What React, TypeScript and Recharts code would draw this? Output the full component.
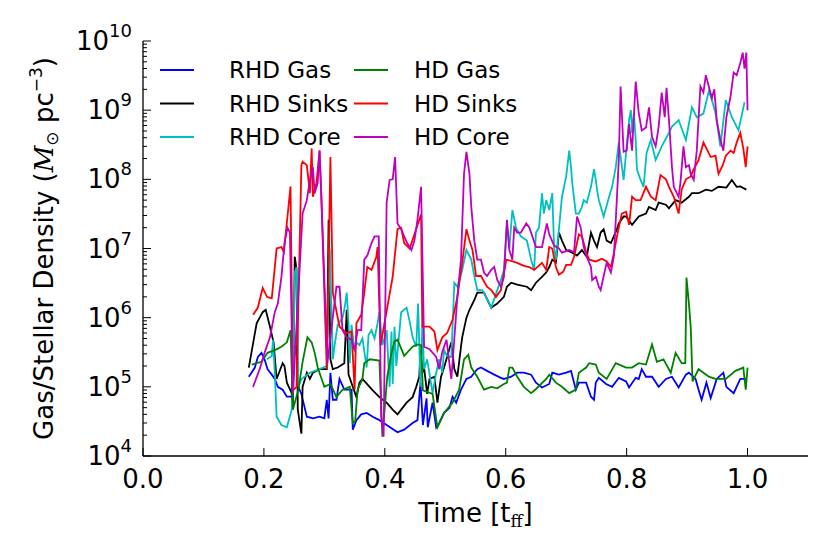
import { LineChart, Line, XAxis, YAxis, Legend } from "recharts";

// time [t_ff], density [Msun pc^-3]
const rhdGas: [number, number][] = [
  [0.175, 1.4e5], [0.185, 1.9e5], [0.19, 2.7e5], [0.196, 3.1e5], [0.201, 2.5e5], [0.206, 1.8e5],
  [0.213, 1.5e5], [0.218, 1.3e5], [0.223, 1.0e5], [0.231, 9.1e4], [0.238, 7.2e4], [0.246, 7.2e4],
  [0.249, 3.8e5], [0.254, 3.8e5], [0.257, 1.0e5], [0.262, 7.9e4], [0.271, 3.7e4], [0.281, 3.5e4],
  [0.292, 3.7e4], [0.3, 3.5e4], [0.304, 6.5e4], [0.307, 3.5e4], [0.31, 1.6e5], [0.314, 6.5e4],
  [0.32, 6.5e4], [0.325, 1.3e5], [0.333, 9.1e4], [0.345, 9.1e4], [0.347, 2.4e4], [0.353, 3.3e4],
  [0.361, 4.0e4], [0.37, 4.2e4], [0.38, 3.7e4], [0.391, 3.3e4], [0.403, 2.8e4], [0.421, 2.2e4],
  [0.432, 2.4e4], [0.446, 3.0e4], [0.454, 3.3e4], [0.459, 1.15e5], [0.463, 2.8e4], [0.469, 6.8e4],
  [0.471, 2.6e4], [0.479, 5.9e4], [0.485, 2.6e4], [0.49, 3.0e4], [0.498, 4.2e4], [0.507, 5.0e4],
  [0.512, 7.2e4], [0.518, 5.9e4], [0.526, 9.1e4], [0.535, 1.3e5], [0.543, 1.4e5], [0.548, 1.6e5],
  [0.553, 1.8e5], [0.559, 1.9e5], [0.569, 1.7e5], [0.581, 1.5e5], [0.592, 1.35e5], [0.597, 1.3e5],
  [0.609, 1.4e5], [0.619, 1.6e5], [0.63, 1.6e5], [0.642, 1.5e5], [0.65, 1.15e5], [0.66, 9.8e4],
  [0.672, 1.1e5], [0.677, 1.6e5], [0.688, 1.5e5], [0.7, 1.6e5], [0.708, 1.7e5], [0.716, 9.1e4],
  [0.721, 1.15e5], [0.733, 1.15e5], [0.741, 7.2e4], [0.746, 6.5e4], [0.749, 1.15e5], [0.754, 1.35e5],
  [0.766, 1.1e5], [0.776, 1.0e5], [0.787, 1.35e5], [0.799, 1.2e5], [0.804, 9.8e4], [0.815, 1.35e5],
  [0.82, 1.3e5], [0.825, 1.8e5], [0.832, 1.4e5], [0.842, 1.4e5], [0.853, 1.0e5], [0.865, 1.3e5],
  [0.875, 1.4e5], [0.886, 9.8e4], [0.898, 1.5e5], [0.903, 1.6e5], [0.914, 1.3e5], [0.919, 9.1e4],
  [0.924, 6.5e4], [0.932, 1.15e5], [0.939, 6.9e4], [0.949, 1.3e5], [0.96, 1.6e5], [0.965, 1.0e5],
  [0.977, 8.1e4], [0.988, 1.3e5], [0.998, 1.3e5],
];

const rhdSinks: [number, number][] = [
  [0.175, 1.9e5], [0.188, 8.3e5], [0.193, 1.0e6], [0.198, 1.2e6], [0.203, 1.3e6], [0.21, 7.4e5],
  [0.216, 4.4e5], [0.221, 1.3e5], [0.231, 2.2e5], [0.234, 2.0e5], [0.238, 1.15e5], [0.246, 8.1e4],
  [0.248, 4.7e4], [0.251, 7.6e6], [0.254, 5.0e6], [0.256, 4.7e4], [0.262, 2.1e4], [0.264, 1.0e5],
  [0.271, 1.6e5], [0.276, 1.3e5], [0.281, 1.6e5], [0.292, 1.8e5], [0.304, 1.8e5], [0.307, 2.6e7],
  [0.31, 2.5e5], [0.314, 1.8e5], [0.322, 1.9e5], [0.333, 2.2e5], [0.337, 1.3e6], [0.34, 1.5e5],
  [0.353, 7.1e4], [0.358, 1.15e5], [0.363, 1.3e5], [0.38, 8.9e4], [0.391, 7.1e4], [0.403, 5.9e4],
  [0.413, 4.7e4], [0.421, 4.0e4], [0.436, 5.9e4], [0.446, 7.1e4], [0.452, 1.0e5], [0.457, 1.4e5],
  [0.459, 3.4e5], [0.462, 1.6e5], [0.465, 1.9e5], [0.47, 7.9e4], [0.474, 1.3e5], [0.482, 1.4e5],
  [0.487, 5.9e4], [0.493, 1.4e5], [0.498, 1.9e5], [0.503, 2.7e5], [0.51, 4.4e5], [0.515, 1.8e5],
  [0.52, 1.4e5], [0.526, 3.8e5], [0.528, 5.2e5], [0.535, 1.0e6], [0.54, 1.3e6], [0.548, 1.8e6],
  [0.553, 2.3e6], [0.564, 2.3e6], [0.576, 1.4e6], [0.586, 1.6e6], [0.597, 2.0e6], [0.602, 2.8e6],
  [0.609, 3.2e6], [0.619, 3.0e6], [0.635, 2.8e6], [0.642, 2.5e6], [0.65, 3.2e6], [0.66, 3.9e6],
  [0.667, 4.5e6], [0.672, 5.4e6], [0.677, 6.9e6], [0.683, 6.3e6], [0.688, 1.7e7], [0.693, 1.3e7],
  [0.7, 9.5e6], [0.71, 8.7e6], [0.718, 7.9e6], [0.726, 9.5e6], [0.734, 7.6e6], [0.741, 1.7e7],
  [0.746, 1.3e7], [0.751, 1.05e7], [0.757, 1.7e7], [0.762, 1.9e7], [0.767, 1.3e7], [0.774, 1.2e7],
  [0.784, 1.9e7], [0.787, 2.3e7], [0.795, 2.9e7], [0.799, 2.9e7], [0.809, 2.2e7], [0.82, 2.9e7],
  [0.832, 3.2e7], [0.837, 4.0e7], [0.848, 3.6e7], [0.853, 4.6e7], [0.865, 4.3e7], [0.87, 3.8e7],
  [0.881, 5.0e7], [0.891, 4.6e7], [0.903, 5.6e7], [0.908, 6.3e7], [0.919, 6.3e7], [0.931, 7.1e7],
  [0.941, 6.8e7], [0.952, 7.8e7], [0.965, 7.6e7], [0.974, 9.8e7], [0.982, 7.8e7], [0.988, 7.9e7],
  [0.998, 7.1e7],
];

const rhdCore: [number, number][] = [
  [0.205, 2.5e5], [0.213, 2.8e5], [0.215, 4.8e5], [0.218, 1.6e5], [0.221, 3.7e4], [0.229, 2.8e4],
  [0.238, 2.6e4], [0.246, 4.7e4], [0.248, 9.1e4], [0.251, 4.5e6], [0.254, 5.4e6], [0.257, 1.0e5],
  [0.262, 1.3e5], [0.276, 1.6e5], [0.292, 1.8e5], [0.304, 2.0e5], [0.309, 1.0e7], [0.314, 2.5e5],
  [0.317, 4.0e5], [0.322, 7.9e5], [0.33, 1.0e6], [0.333, 1.3e6], [0.337, 2.3e6], [0.34, 8.3e5],
  [0.342, 2.2e5], [0.345, 7.9e5], [0.35, 3.2e5], [0.353, 4.4e5], [0.358, 4.0e5], [0.363, 5.0e5],
  [0.37, 1.9e5], [0.373, 5.6e5], [0.378, 6.6e5], [0.383, 5.0e5], [0.388, 8.3e5], [0.391, 1.2e6],
  [0.396, 4.0e5], [0.403, 6.6e5], [0.408, 1.0e5], [0.411, 6.3e5], [0.413, 1.1e5], [0.416, 7.4e5],
  [0.419, 2.0e5], [0.427, 1.2e6], [0.436, 1.4e6], [0.441, 8.9e5], [0.446, 5.2e5], [0.452, 3.8e5],
  [0.455, 1.6e6], [0.459, 1.0e5], [0.462, 7.9e5], [0.465, 1.8e5], [0.47, 2.5e5], [0.479, 8.1e4],
  [0.485, 1.6e5], [0.49, 2.5e5], [0.495, 1.6e5], [0.498, 3.4e5], [0.503, 2.8e5], [0.51, 2.7e5],
  [0.515, 3.2e6], [0.52, 2.8e6], [0.528, 4.9e6], [0.535, 9.5e6], [0.543, 6.9e6], [0.548, 4.0e6],
  [0.553, 2.5e6], [0.561, 2.5e6], [0.564, 2.3e6], [0.573, 1.6e6], [0.576, 1.4e6], [0.586, 2.5e6],
  [0.592, 3.5e6], [0.597, 4.9e6], [0.602, 2.3e7], [0.606, 1.0e7], [0.611, 3.6e7], [0.617, 2.0e7],
  [0.625, 1.5e7], [0.635, 1.3e7], [0.642, 6.9e6], [0.647, 4.9e6], [0.65, 1.7e7], [0.655, 2.0e7],
  [0.66, 6.3e7], [0.663, 3.2e7], [0.667, 5.0e7], [0.672, 3.6e7], [0.677, 6.3e7], [0.68, 1.05e7],
  [0.683, 6.9e6], [0.688, 1.9e7], [0.693, 5.6e7], [0.7, 1.1e8], [0.705, 2.6e8], [0.708, 1.5e8],
  [0.71, 8.9e7], [0.716, 3.2e7], [0.721, 3.2e7], [0.726, 4.0e7], [0.729, 5.0e7], [0.734, 4.6e7],
  [0.741, 7.8e7], [0.746, 1.4e8], [0.749, 9.8e7], [0.751, 7.1e7], [0.754, 5.0e7], [0.762, 2.9e7],
  [0.771, 5.6e7], [0.776, 7.8e7], [0.782, 1.5e8], [0.787, 3.4e8], [0.795, 9.8e7], [0.804, 7.2e8],
  [0.807, 1.0e9], [0.809, 4.7e8], [0.812, 9.1e8], [0.815, 3.7e8], [0.817, 1.4e8], [0.823, 9.8e7],
  [0.828, 7.8e7], [0.833, 2.4e8], [0.84, 3.7e8], [0.848, 1.9e8], [0.858, 3.0e8], [0.87, 4.7e8],
  [0.875, 5.8e8], [0.886, 7.2e8], [0.898, 3.7e8], [0.908, 1.1e9], [0.916, 7.9e8], [0.927, 8.9e8],
  [0.936, 1.9e9], [0.941, 1.4e9], [0.947, 9.1e8], [0.955, 3.0e8], [0.964, 1.4e9], [0.974, 7.9e8],
  [0.985, 5.1e8], [0.995, 1.3e9],
];

const hdGas: [number, number][] = [
  [0.18, 2.1e5], [0.196, 2.3e5], [0.206, 3.1e5], [0.218, 3.4e5], [0.229, 3.8e5], [0.238, 4.4e5],
  [0.244, 6.6e5], [0.248, 4.7e4], [0.257, 9.1e4], [0.264, 2.3e5], [0.272, 5.2e5], [0.279, 4.4e5],
  [0.284, 3.1e5], [0.289, 1.9e5], [0.3, 1.0e5], [0.31, 1.1e5], [0.32, 7.1e4], [0.33, 9.1e4],
  [0.342, 1.0e5], [0.347, 3.0e4], [0.351, 3.2e4], [0.355, 9.1e4], [0.363, 1.3e5], [0.366, 2.2e5],
  [0.375, 2.5e5], [0.391, 2.4e5], [0.396, 1.9e4], [0.404, 1.4e5], [0.411, 3.1e5], [0.416, 4.5e5],
  [0.421, 4.8e5], [0.432, 2.8e5], [0.446, 3.8e5], [0.454, 4.1e5], [0.46, 4.0e5], [0.463, 8.9e4],
  [0.479, 7.9e4], [0.487, 2.6e4], [0.498, 4.2e4], [0.512, 5.9e4], [0.523, 9.1e4], [0.531, 2.5e5],
  [0.538, 2.9e5], [0.543, 1.9e5], [0.553, 1.4e5], [0.564, 9.1e4], [0.576, 1.0e5], [0.586, 9.5e4],
  [0.597, 1.1e5], [0.602, 1.15e5], [0.606, 1.9e5], [0.611, 1.9e5], [0.619, 1.4e5], [0.63, 1.0e5],
  [0.642, 8.1e4], [0.65, 9.3e4], [0.667, 1.3e5], [0.672, 1.5e5], [0.683, 1.15e5], [0.693, 1.0e5],
  [0.705, 8.1e4], [0.716, 9.1e4], [0.721, 1.6e5], [0.733, 1.9e5], [0.738, 2.2e5], [0.749, 2.1e5],
  [0.754, 1.6e5], [0.767, 1.3e5], [0.782, 2.2e5], [0.799, 1.9e5], [0.809, 1.9e5], [0.82, 2.2e5],
  [0.832, 2.1e5], [0.842, 4.1e5], [0.85, 2.3e5], [0.861, 2.5e5], [0.873, 1.6e5], [0.881, 3.1e5],
  [0.891, 2.2e5], [0.897, 2.2e5], [0.899, 3.8e6], [0.903, 1.6e6], [0.906, 7.4e5], [0.909, 1.2e5],
  [0.919, 1.8e5], [0.936, 1.4e5], [0.947, 1.3e5], [0.964, 1.3e5], [0.98, 1.7e5], [0.993, 1.9e5],
  [0.997, 9.1e4], [1.0, 1.9e5],
];

const hdSinks: [number, number][] = [
  [0.182, 1.1e6], [0.19, 1.4e6], [0.198, 2.7e6], [0.205, 2.0e6], [0.213, 1.9e6], [0.221, 1.0e7],
  [0.229, 1.05e7], [0.233, 8.9e6], [0.239, 2.9e7], [0.244, 7.9e7], [0.248, 8.9e4], [0.254, 1.0e5],
  [0.262, 1.6e8], [0.264, 1.8e8], [0.271, 1.6e8], [0.276, 6.3e7], [0.279, 2.8e8], [0.281, 5.6e7],
  [0.287, 8.9e7], [0.292, 2.6e8], [0.295, 5.6e7], [0.304, 1.8e5], [0.31, 2.1e8], [0.314, 2.3e6],
  [0.325, 7.4e5], [0.337, 6.0e5], [0.345, 6.3e5], [0.35, 9.1e4], [0.353, 8.3e5], [0.361, 1.1e6],
  [0.366, 2.3e6], [0.371, 5.4e6], [0.378, 4.9e6], [0.386, 7.6e6], [0.388, 1.05e7], [0.393, 4.0e5],
  [0.404, 1.4e6], [0.413, 3.9e6], [0.421, 1.9e7], [0.427, 2.0e7], [0.432, 1.2e7], [0.441, 1.0e7],
  [0.449, 1.6e7], [0.457, 2.6e7], [0.46, 3.1e7], [0.462, 7.4e5], [0.474, 7.4e5], [0.482, 6.3e5],
  [0.487, 3.4e5], [0.495, 5.2e5], [0.503, 6.0e5], [0.512, 9.3e5], [0.52, 2.0e6], [0.528, 6.2e6],
  [0.535, 1.9e7], [0.54, 1.3e7], [0.545, 9.5e6], [0.551, 4.0e6], [0.559, 4.0e6], [0.569, 2.8e6],
  [0.576, 2.5e6], [0.584, 2.0e6], [0.592, 2.5e6], [0.601, 6.9e6], [0.609, 6.6e6], [0.619, 6.2e6],
  [0.63, 5.6e6], [0.639, 5.4e6], [0.647, 4.9e6], [0.66, 6.2e6], [0.667, 4.9e6], [0.672, 1.05e7],
  [0.677, 1.0e7], [0.683, 5.4e6], [0.688, 4.2e6], [0.695, 4.6e6], [0.7, 5.8e6], [0.708, 5.8e6],
  [0.713, 7.6e6], [0.721, 1.6e7], [0.726, 1.5e7], [0.733, 8.9e6], [0.738, 6.9e6], [0.749, 6.5e6],
  [0.759, 7.1e6], [0.767, 6.5e6], [0.774, 5.4e6], [0.779, 8.7e6], [0.784, 1.5e7], [0.792, 3.2e7],
  [0.799, 3.4e7], [0.804, 2.2e7], [0.809, 5.6e7], [0.815, 5.0e7], [0.823, 5.0e7], [0.832, 7.8e7],
  [0.84, 5.6e7], [0.848, 5.0e7], [0.856, 1.15e8], [0.865, 1.0e8], [0.87, 7.8e7], [0.878, 5.6e7],
  [0.886, 3.2e7], [0.891, 7.1e7], [0.898, 1.0e8], [0.906, 1.1e8], [0.911, 1.4e8], [0.919, 1.9e8],
  [0.927, 3.4e8], [0.932, 2.8e8], [0.939, 2.1e8], [0.947, 2.2e8], [0.952, 1.2e8], [0.959, 1.6e8],
  [0.964, 2.2e8], [0.972, 2.6e8], [0.977, 2.4e8], [0.982, 3.4e8], [0.988, 4.7e8], [0.993, 2.8e8],
  [0.997, 1.5e8], [1.0, 3.0e8],
];

const hdCore: [number, number][] = [
  [0.182, 1.0e5], [0.193, 1.8e5], [0.201, 3.1e5], [0.21, 5.2e5], [0.218, 1.2e6], [0.223, 1.6e6],
  [0.229, 3.9e6], [0.234, 1.2e7], [0.239, 2.0e7], [0.243, 1.7e7], [0.248, 8.1e4], [0.264, 3.2e7],
  [0.271, 5.0e7], [0.276, 9.8e7], [0.281, 1.5e8], [0.284, 6.3e7], [0.289, 8.9e7], [0.292, 2.6e8],
  [0.295, 5.6e7], [0.305, 2.2e5], [0.32, 2.8e6], [0.325, 2.8e6], [0.33, 6.6e5], [0.337, 5.2e5],
  [0.345, 4.8e5], [0.35, 3.4e5], [0.355, 6.6e5], [0.361, 6.6e5], [0.366, 6.9e6], [0.371, 7.9e6],
  [0.378, 1.2e7], [0.383, 1.5e7], [0.39, 1.5e7], [0.394, 3.7e4], [0.398, 1.9e4], [0.403, 4.6e7],
  [0.408, 9.8e7], [0.413, 1.0e8], [0.417, 2.1e8], [0.421, 2.3e7], [0.427, 1.9e7], [0.432, 1.5e7],
  [0.437, 1.2e7], [0.444, 9.5e6], [0.449, 1.3e7], [0.454, 2.6e7], [0.46, 7.8e7], [0.465, 3.8e5],
  [0.474, 3.5e5], [0.485, 2.7e5], [0.49, 1.8e5], [0.495, 3.2e5], [0.502, 4.8e5], [0.51, 1.3e5],
  [0.515, 5.0e5], [0.52, 2.0e6], [0.526, 6.9e6], [0.531, 1.2e8], [0.535, 2.5e8], [0.54, 1.2e8],
  [0.543, 4.0e7], [0.548, 1.3e7], [0.553, 6.9e6], [0.559, 6.9e6], [0.564, 4.5e6], [0.569, 4.0e6],
  [0.576, 4.9e6], [0.581, 5.4e6], [0.586, 3.5e6], [0.592, 2.8e6], [0.597, 3.9e6], [0.602, 2.6e7],
  [0.606, 9.5e6], [0.611, 6.9e6], [0.614, 2.0e7], [0.619, 1.7e7], [0.625, 1.7e7], [0.634, 2.3e7],
  [0.639, 2.0e7], [0.644, 1.5e7], [0.65, 1.05e7], [0.66, 1.05e7], [0.668, 2.3e7], [0.672, 1.6e7],
  [0.68, 1.1e7], [0.688, 1.0e7], [0.693, 8.7e6], [0.705, 9.5e6], [0.713, 8.9e6], [0.718, 2.9e7],
  [0.724, 2.0e7], [0.729, 1.05e7], [0.734, 7.6e6], [0.741, 5.4e6], [0.743, 3.5e6], [0.749, 3.9e6],
  [0.754, 2.8e6], [0.757, 2.5e6], [0.762, 4.0e6], [0.767, 6.2e6], [0.774, 4.5e6], [0.779, 7.9e6],
  [0.784, 5.6e7], [0.787, 1.9e8], [0.79, 2.2e9], [0.795, 2.5e8], [0.8, 2.6e8], [0.804, 6.3e8],
  [0.809, 2.6e8], [0.815, 2.6e9], [0.82, 9.1e8], [0.825, 5.1e8], [0.832, 5.6e8], [0.837, 1.1e9],
  [0.842, 4.1e8], [0.848, 3.0e8], [0.853, 5.8e8], [0.858, 1.8e9], [0.863, 7.9e8], [0.866, 2.1e9],
  [0.87, 7.2e8], [0.875, 1.5e8], [0.878, 7.8e7], [0.883, 6.3e7], [0.886, 5.6e7], [0.889, 8.9e7],
  [0.894, 3.0e8], [0.898, 1.5e8], [0.903, 1.6e8], [0.906, 1.2e8], [0.911, 9.8e7], [0.916, 2.6e8],
  [0.922, 2.2e9], [0.927, 1.8e9], [0.931, 3.2e9], [0.936, 2.2e9], [0.941, 1.5e9], [0.945, 2.0e9],
  [0.949, 7.2e8], [0.955, 3.7e8], [0.96, 2.6e8], [0.965, 7.9e8], [0.972, 1.6e9], [0.977, 3.5e9],
  [0.982, 3.2e9], [0.988, 4.8e9], [0.992, 6.8e9], [0.995, 4.0e9], [0.998, 6.8e9], [1.0, 1.0e9],
];

const xTicks = [0, 0.2, 0.4, 0.6, 0.8, 1.0];
const yMajor = [1e4, 1e5, 1e6, 1e7, 1e8, 1e9, 1e10];
const yMinor = yMajor.slice(0, -1).flatMap((d) => [2, 3, 4, 5, 6, 7, 8, 9].map((m) => m * d));
const yTicks = [...yMajor, ...yMinor].sort((a, b) => a - b);

const series = [
  { name: "RHD Gas", color: "#0000ff", pts: rhdGas },
  { name: "RHD Sinks", color: "#000000", pts: rhdSinks },
  { name: "RHD Core", color: "#00bfbf", pts: rhdCore },
  { name: "HD Gas", color: "#008000", pts: hdGas },
  { name: "HD Sinks", color: "#ff0000", pts: hdSinks },
  { name: "HD Core", color: "#bf00bf", pts: hdCore },
];

const FONT = "DejaVu Sans";

const isMajor = (v: number) => {
  const e = Math.log10(v);
  return Math.abs(e - Math.round(e)) < 1e-6;
};

const YTick = ({ x, y, payload, side }: any) => {
  const v = payload.value as number;
  const major = isMajor(v);
  const len = major ? 8 : 4;
  const dir = side === "left" ? 1 : -1;
  return (
    <g>
      <line x1={x} x2={x + dir * len} y1={y} y2={y} stroke="#000" strokeWidth={1} />
      {major && side === "left" && (
        <text x={x - 11} y={y + 9} textAnchor="end" fontSize={26} fontFamily={FONT} fill="#000">
          10
          <tspan dy={-13} fontSize={18}>
            {Math.round(Math.log10(v))}
          </tspan>
        </text>
      )}
    </g>
  );
};

const XTick = ({ x, y, payload, side }: any) => {
  const dir = side === "bottom" ? -1 : 1;
  return (
    <g>
      <line x1={x} x2={x} y1={y} y2={y + dir * 8} stroke="#000" strokeWidth={1} />
      {side === "bottom" && (
        <text x={x} y={y + 32} textAnchor="middle" fontSize={26} fontFamily={FONT} fill="#000">
          {(payload.value as number).toFixed(1)}
        </text>
      )}
    </g>
  );
};

const XLabel = ({ viewBox }: any) => (
  <text
    x={viewBox.x + viewBox.width / 2}
    y={viewBox.y + 66}
    textAnchor="middle"
    fontSize={26}
    fontFamily={FONT}
    fill="#000"
  >
    Time [t
    <tspan dy={5} fontSize={17} fontFamily="DejaVu Serif">
      ff
    </tspan>
    <tspan dy={-5}>]</tspan>
  </text>
);

const YLabel = ({ viewBox }: any) => {
  const cx = viewBox.x - 20;
  const cy = viewBox.y + viewBox.height / 2;
  return (
    <text
      transform={`translate(${cx}, ${cy}) rotate(-90)`}
      textAnchor="middle"
      fontSize={26}
      fontFamily={FONT}
      fill="#000"
    >
      Gas/Stellar Density (
      <tspan fontStyle="italic" fontFamily="DejaVu Serif">
        M
      </tspan>
      <tspan dy={5} fontSize={17}>
        ⊙
      </tspan>
      <tspan dy={-5}> pc</tspan>
      <tspan dy={-11} fontSize={17}>
        −3
      </tspan>
      <tspan dy={11}>)</tspan>
    </text>
  );
};

const LegendBox = () => (
  <svg width={830} height={170} style={{ position: "absolute", left: 0, top: 0 }}>
    {series.map((s, i) => {
      const col = Math.floor(i / 3);
      const row = i % 3;
      const x0 = col === 0 ? 160 : 354;
      const yc = 70 + row * 33.5;
      return (
        <g key={s.name}>
          <line x1={x0} x2={x0 + 34} y1={yc} y2={yc} stroke={s.color} strokeWidth={1.8} />
          <text x={col === 0 ? 229 : 414} y={yc + 8} fontSize={23} fontFamily={FONT} fill="#000">
            {s.name}
          </text>
        </g>
      );
    })}
  </svg>
);

export default function App() {
  return (
    <div style={{ position: "absolute", left: 0, top: 0, width: 830, height: 554, background: "#fff" }}>
      <LineChart width={830} height={554} margin={{ top: 41, right: 22, bottom: 68, left: 73 }}>
        <XAxis
          xAxisId="b"
          dataKey="t"
          type="number"
          domain={[0, 1.1]}
          allowDataOverflow
          ticks={xTicks}
          interval={0}
          height={30}
          tickSize={0}
          tickMargin={0}
          tickLine={false}
          axisLine={{ stroke: "#000", strokeWidth: 1.3 }}
          tick={(p: any) => <XTick {...p} side="bottom" />}
          label={{ content: (p: any) => <XLabel {...p} /> }}
        />
        <XAxis
          xAxisId="top"
          orientation="top"
          dataKey="t"
          type="number"
          domain={[0, 1.1]}
          allowDataOverflow
          ticks={xTicks}
          interval={0}
          height={0}
          tickSize={0}
          tickMargin={0}
          tickLine={false}
          axisLine={{ stroke: "#000", strokeWidth: 1.3 }}
          tick={(p: any) => <XTick {...p} side="top" />}
        />
        <YAxis
          yAxisId="l"
          type="number"
          scale="log"
          domain={[1e4, 1e10]}
          allowDataOverflow
          ticks={yTicks}
          interval={0}
          width={70}
          tickSize={0}
          tickMargin={0}
          tickLine={false}
          axisLine={{ stroke: "#000", strokeWidth: 1.3 }}
          tick={(p: any) => <YTick {...p} side="left" />}
          label={{ content: (p: any) => <YLabel {...p} /> }}
        />
        <YAxis
          yAxisId="r"
          orientation="right"
          type="number"
          scale="log"
          domain={[1e4, 1e10]}
          allowDataOverflow
          ticks={yTicks}
          interval={0}
          width={0}
          tickSize={0}
          tickMargin={0}
          tickLine={false}
          axisLine={{ stroke: "#000", strokeWidth: 1.3 }}
          tick={(p: any) => <YTick {...p} side="right" />}
        />
        <Legend
          layout="horizontal"
          verticalAlign="middle"
          align="center"
          wrapperStyle={{ left: 0, top: 0, width: 830, height: 0 }}
          content={() => <LegendBox />}
        />
        {series.map((s) => (
          <Line
            key={s.name}
            name={s.name}
            xAxisId="b"
            yAxisId="l"
            data={s.pts.map(([t, v]) => ({ t, v }))}
            dataKey="v"
            type="linear"
            stroke={s.color}
            strokeWidth={1.8}
            dot={false}
            isAnimationActive={false}
          />
        ))}
      </LineChart>
    </div>
  );
}
